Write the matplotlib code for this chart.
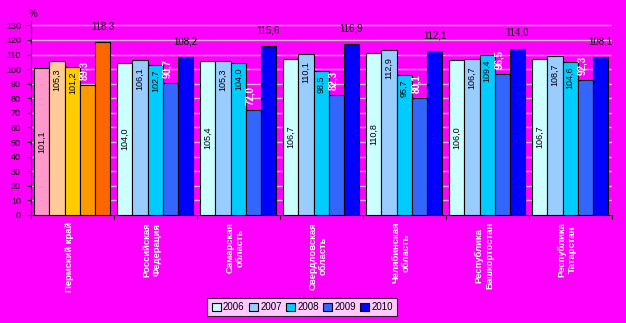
import numpy as np
import matplotlib
matplotlib.use("Agg")
import matplotlib.pyplot as plt
from matplotlib.patches import Patch

plt.rcParams['font.family'] = ['Liberation Sans', 'DejaVu Sans']

regions = ["Пермский край", "Российская\nФедерация", "Самарская\nобласть",
           "Свердловская\nобласть", "Челябинская\nобласть",
           "Республика\nБашкортостан", "Республика\nТатарстан"]
years = ["2006", "2007", "2008", "2009", "2010"]

v2006 = [101.1, 104.0, 105.4, 106.7, 110.8, 106.0, 106.7]
v2007 = [105.3, 106.1, 105.3, 110.1, 112.9, 106.7, 108.7]
v2008 = [101.2, 102.7, 104.0, 98.5, 95.7, 109.4, 104.6]
v2009 = [89.3, 90.7, 72.0, 82.3, 80.1, 96.5, 92.3]
v2010 = [118.3, 108.2, 115.6, 116.9, 112.1, 114.0, 108.1]
series = [v2006, v2007, v2008, v2009, v2010]

blue_cols = ["#CCFFFF", "#99CCFF", "#00CCFF", "#3366FF", "#0000FF"]
perm_cols = ["#FF99CC", "#FFCC99", "#FFCC00", "#FF9900", "#FF6600"]
bg = "#FF00FF"

fig = plt.figure(figsize=(6.26, 3.23), dpi=100, facecolor=bg)
ax = fig.add_axes([0.049, 0.3344, 0.928, 0.6006])
ax.set_facecolor(bg)

x = np.arange(len(regions))
w = 0.183
for j, vals in enumerate(series):
    cols = [perm_cols[j] if i == 0 else blue_cols[j] for i in range(len(regions))]
    ax.bar(x + (j - 2) * w, vals, w, color=cols, edgecolor="black",
           linewidth=0.8, zorder=3)

# подписи значений
def fmt(v):
    return f"{v:.1f}".replace(".", ",")

for i in range(len(regions)):
    ax.text(x[i] - 2 * w, v2006[i] / 2, fmt(v2006[i]), rotation=90,
            ha="center", va="center", fontsize=6.5, zorder=4)
    ax.annotate(fmt(v2007[i]), (x[i] - w, v2007[i]), xytext=(0, -5),
                textcoords="offset points", rotation=90, ha="center",
                va="top", fontsize=6.5, zorder=4)
    ax.annotate(fmt(v2008[i]), (x[i], v2008[i]), xytext=(0, -3),
                textcoords="offset points", rotation=90, ha="center",
                va="top", fontsize=6.5, zorder=4)
    ax.annotate(fmt(v2009[i]), (x[i] + w, v2009[i]), xytext=(-2, 3.5),
                textcoords="offset points", rotation=90, ha="center",
                va="bottom", fontsize=7, color="white", fontweight="bold",
                zorder=4)
    ax.annotate(fmt(v2010[i]), (x[i] + 2 * w, v2010[i]), xytext=(0, 8),
                textcoords="offset points", ha="center", va="bottom",
                fontsize=7, zorder=4)

ax.set_xlim(-0.5, len(regions) - 0.5)
ax.set_ylim(0, 133)
ax.set_yticks(range(0, 131, 10))
ax.set_yticklabels([str(t) for t in range(0, 131, 10)], fontsize=6.5)
ax.yaxis.grid(True, color="#C0C0C0", linewidth=1, zorder=0)
ax.set_axisbelow(True)
ax.set_xticks(np.arange(-0.5, len(regions), 1.0))
ax.set_xticklabels([])
ax.tick_params(axis="both", direction="out", length=3, width=0.8, pad=2)
ax.tick_params(axis="y", pad=4)
for s in ["top", "right"]:
    ax.spines[s].set_visible(False)
for s in ["left", "bottom"]:
    ax.spines[s].set_linewidth(0.8)

ax.text(-0.004, 1.01, "%", transform=ax.transAxes, fontsize=7,
        ha="left", va="bottom")

for i, name in enumerate(regions):
    ax.annotate(name, (x[i], 0), xytext=(-2, -5), textcoords="offset points",
                rotation=90, ha="center", va="top", fontsize=6.8,
                fontweight="bold", color="white", annotation_clip=False)

handles = [Patch(facecolor=c, edgecolor="black", linewidth=0.8) for c in blue_cols]
leg = fig.legend(handles, years, loc="center", bbox_to_anchor=(0.483, 0.0495),
                 ncol=5, fontsize=7, frameon=True, fancybox=False,
                 handlelength=0.9, handleheight=0.9, handletextpad=0.25,
                 columnspacing=0.45, borderpad=0.45, borderaxespad=0)
leg.get_frame().set_edgecolor("black")
leg.get_frame().set_linewidth(0.8)
leg.get_frame().set_facecolor("white")

fig.savefig("out.png", dpi=100, facecolor=bg)
